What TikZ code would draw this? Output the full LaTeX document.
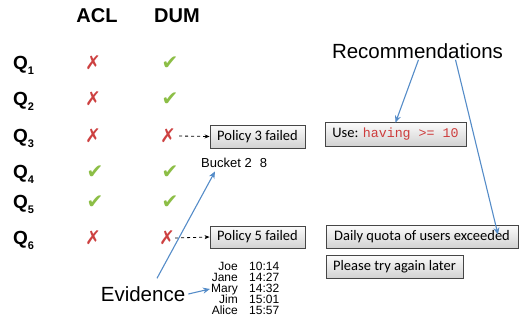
\documentclass[tikz,border=0pt]{standalone}
\usepackage{fontspec}
\setmainfont{Liberation Sans}
\newfontfamily\boxfont{Carlito}
\newfontfamily\codefont{Liberation Mono}
\newfontfamily\symfont{DejaVu Sans}
\usetikzlibrary{arrows.meta,shadows}
\definecolor{xred}{RGB}{205,65,65}
\definecolor{cgreen}{RGB}{140,190,70}
\definecolor{ablue}{RGB}{85,140,200}
\definecolor{codered}{RGB}{205,60,60}
\begin{document}
\begin{tikzpicture}[x=1pt,y=-1pt,
  hdr/.style={font=\fontsize{20}{20}\selectfont\bfseries, inner sep=0pt},
  qlab/.style={font=\fontsize{19}{19}\selectfont\bfseries, inner sep=0pt, anchor=base west},
  nomark/.style={font=\symfont\fontsize{19}{19}\selectfont, text=xred, inner sep=0pt},
  okmark/.style={font=\symfont\fontsize{20}{20}\selectfont, text=cgreen, inner sep=0pt},
  msgbox/.style={draw=gray!55!black, line width=0.8pt, top color=gray!3, bottom color=gray!35,
     font=\boxfont\fontsize{14.5}{14.5}\selectfont, inner sep=0pt, minimum height=23pt,
     drop shadow={opacity=0.35, shadow xshift=1.2pt, shadow yshift=-1.2pt}},
  big/.style={font=\fontsize{20.5}{20.5}\selectfont, inner sep=2pt},
  small/.style={font=\fontsize{12}{11}\selectfont, inner sep=0pt, text height=8pt, text depth=0.5pt},
  dasharrow/.style={dashed, line width=0.8pt, -{Stealth[length=5pt,width=4pt]}},
  bluearrow/.style={draw=ablue, line width=1.1pt, -{Stealth[length=7pt,width=6pt]}}
]
\useasboundingbox (0,0) rectangle (527,322);

% headers
\node[hdr] (hacl) at (97,16) {ACL};
\node[hdr] (hdum) at (177,16) {DUM};

% query labels
\node[qlab] (q1) at (13,69) {Q\raisebox{-0.3em}{\fontsize{11}{11}\selectfont 1}};
\node[qlab] (q2) at (13,105) {Q\raisebox{-0.3em}{\fontsize{11}{11}\selectfont 2}};
\node[qlab] (q3) at (13,142) {Q\raisebox{-0.3em}{\fontsize{11}{11}\selectfont 3}};
\node[qlab] (q4) at (13,178) {Q\raisebox{-0.3em}{\fontsize{11}{11}\selectfont 4}};
\node[qlab] (q5) at (13,208) {Q\raisebox{-0.3em}{\fontsize{11}{11}\selectfont 5}};
\node[qlab] (q6) at (13,244) {Q\raisebox{-0.3em}{\fontsize{11}{11}\selectfont 6}};

% marks
\node[nomark] (a1) at (93,63) {✗};
\node[okmark] (d1) at (170,63) {✔};
\node[nomark] (a2) at (93,99) {✗};
\node[okmark] (d2) at (170,99) {✔};
\node[nomark] (a3) at (93,136) {✗};
\node[nomark] (d3) at (168,136) {✗};
\node[okmark] (a4) at (95,172) {✔};
\node[okmark] (d4) at (170,172) {✔};
\node[okmark] (a5) at (95,202) {✔};
\node[okmark] (d5) at (170,202) {✔};
\node[nomark] (a6) at (93,238) {✗};
\node[nomark] (d6) at (167,238) {✗};

% policy boxes
\node[msgbox, minimum width=95pt] (p3) at (257.5,136.5) {Policy 3 failed};
\node[msgbox, minimum width=95pt, minimum height=22pt] (p5) at (257.5,237) {Policy 5 failed};
\draw[dasharrow] ([xshift=3pt]d3.east) -- (p3.west);
\draw[dasharrow] ([xshift=0pt]d6.east) -- (p5.west);

% recommendation boxes
\node[msgbox, minimum width=141pt, minimum height=24pt] (use) at (395.5,134)
  {Use: \textcolor{codered}{\codefont\fontsize{13.3}{13.3}\selectfont having >= 10}};
\node[msgbox, minimum width=192pt] (daily) at (422,236.5) {Daily quota of users exceeded};
\node[msgbox, minimum width=137pt] (please) at (394.5,266.5) {Please try again later};

% evidence texts
\node[small, font=\fontsize{13}{13}\selectfont, anchor=west] (bucket) at (201,164) {Bucket 2\hspace{8pt}8};

\node[small, anchor=east] (joe) at (238,267) {Joe};
\node[small, anchor=east] (jane) at (238,278) {Jane};
\node[small, anchor=east] (mary) at (238,289) {Mary};
\node[small, anchor=east] (jim) at (238,300) {Jim};
\node[small, anchor=east] (alice) at (238,311) {Alice};
\node[small, anchor=west] (t1) at (249,267) {10:14};
\node[small, anchor=west] (t2) at (249,278) {14:27};
\node[small, anchor=west] (t3) at (249,289) {14:32};
\node[small, anchor=west] (t4) at (249,300) {15:01};
\node[small, anchor=west] (t5) at (249,311) {15:57};

% big labels
\node[big] (rec) at (417.5,51) {Recommendations};
\node[big] (ev) at (143,294) {Evidence};

% blue arrows
\draw[bluearrow] ([xshift=1pt,yshift=1pt]rec.south) -- ([yshift=-1pt]use.north);
\draw[bluearrow] ([xshift=38pt,yshift=1pt]rec.south) -- ([xshift=76pt,yshift=-10pt]daily.north);
\draw[bluearrow] ([xshift=14pt,yshift=6pt]ev.north) -- ([xshift=14pt,yshift=-3pt]bucket.south west);
\draw[bluearrow] ([xshift=1pt]ev.east) -- ([xshift=-1pt]mary.west);
\end{tikzpicture}
\end{document}
